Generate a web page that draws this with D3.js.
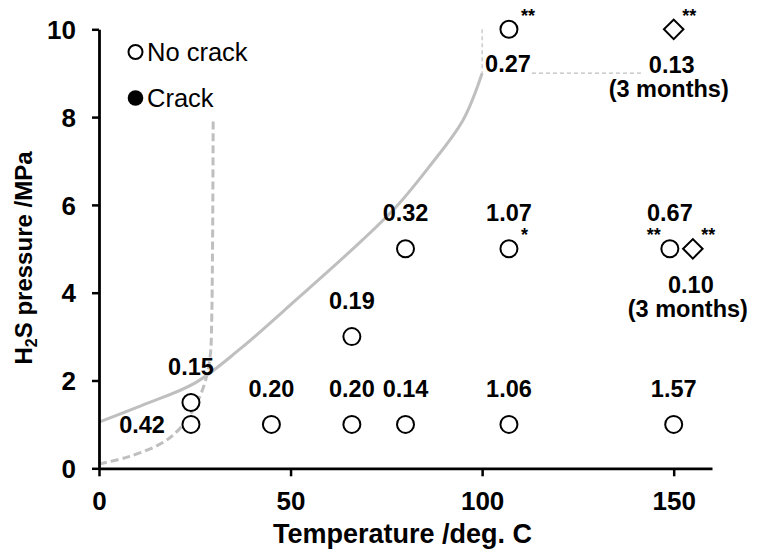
<!DOCTYPE html>
<html>
<head>
<meta charset="utf-8">
<script src="https://cdn.jsdelivr.net/npm/d3@7"></script>
<style>
  html, body { margin: 0; padding: 0; background: #fff; }
  svg { display: block; font-family: "Liberation Sans", Arial, sans-serif; }
</style>
</head>
<body>
<svg id="chart" width="764" height="558"></svg>
<script>
// Test conditions without cracking (open circles: standard duration)
const noCrackTemp  = [24, 24, 45, 66, 80, 107, 150, 66, 80, 107, 149, 107];
const noCrackPress = [1, 1.5, 1, 1, 1, 1, 1, 3, 5, 5, 5, 10];
const noCrackRate  = ["0.42", "0.15", "0.20", "0.20", "0.14", "1.06", "1.57", "0.19", "0.32", "1.07", "0.67", "0.27"];
const noCrackNote  = ["", "", "", "", "", "", "", "", "", "*", "**", "**"];

// 3-month exposures (diamonds)
const longTemp  = [150, 155];
const longPress = [10, 5];
const longRate  = ["0.13", "0.10"];
const longNote  = ["**", "**"];

// H2S vapour-pressure curve up to the critical point
const vapTemp  = [0, 12, 25, 37, 52, 69, 78, 86, 95, 100];
const vapPress = [1.05, 1.46, 1.94, 2.73, 3.88, 5.22, 6.0, 6.85, 7.93, 9.0];

// Dashed boundary near 30 deg. C
const bndTemp  = [0, 7.6, 16.3, 20.7, 25, 27.6, 29, 29.4, 29.8];
const bndPress = [0.1, 0.26, 0.57, 0.87, 1.4, 1.94, 2.54, 3.3, 7.9];

// Critical point guide lines
const critVTemp = [100, 100];
const critVPress = [10, 9];
const critHTemp = [113, 142];
const critHPress = [9, 9];

const xTicks = [0, 50, 100, 150];
const yTicks = [0, 2, 4, 6, 8, 10];

const legendItems = ["No crack", "Crack"];

const svg = d3.select("#chart");
const margin = { left: 99, top: 29.3, right: 52, bottom: 89.7 };
const W = 764 - margin.left - margin.right;
const H = 558 - margin.top - margin.bottom;

const x = d3.scaleLinear().domain([0, 160]).range([margin.left, margin.left + W]);
const y = d3.scaleLinear().domain([0, 10]).range([margin.top + H, margin.top]);

const grey = "#bfbfbf";
const line = d3.line().x(d => x(d[0])).y(d => y(d[1]));

// curves
svg.append("path")
  .attr("d", line.curve(d3.curveCatmullRom.alpha(0.5))(d3.zip(vapTemp, vapPress)))
  .attr("fill", "none").attr("stroke", grey).attr("stroke-width", 3);

svg.append("path")
  .attr("d", line.curve(d3.curveCatmullRom.alpha(0.5))(d3.zip(bndTemp, bndPress)))
  .attr("fill", "none").attr("stroke", grey).attr("stroke-width", 3)
  .attr("stroke-dasharray", "8,4");

svg.append("path")
  .attr("d", line.curve(d3.curveLinear)(d3.zip(critVTemp, critVPress)))
  .attr("fill", "none").attr("stroke", grey).attr("stroke-width", 1.2)
  .attr("stroke-dasharray", "4,3");
svg.append("path")
  .attr("d", line.curve(d3.curveLinear)(d3.zip(critHTemp, critHPress)))
  .attr("fill", "none").attr("stroke", grey).attr("stroke-width", 1.2)
  .attr("stroke-dasharray", "4,3");

// axes
const xAxis = svg.append("g")
  .attr("transform", `translate(0,${y(0)})`)
  .call(d3.axisBottom(x).tickValues(xTicks).tickSize(8).tickSizeOuter(0).tickFormat(d3.format("d")));
const yAxis = svg.append("g")
  .attr("transform", `translate(${x(0)},0)`)
  .call(d3.axisLeft(y).tickValues(yTicks).tickSize(7).tickSizeOuter(0).tickFormat(d3.format("d")));

[xAxis, yAxis].forEach(g => {
  g.select(".domain").attr("stroke", "#000").attr("stroke-width", 2.8);
  g.selectAll(".tick line").attr("stroke", "#000").attr("stroke-width", 2.5);
  g.selectAll(".tick text").attr("fill", "#000")
    .attr("font-family", "'Liberation Sans', Arial, sans-serif")
    .attr("font-size", 26).attr("font-weight", "bold");
});
xAxis.selectAll(".tick text").attr("y", 0).attr("dy", 0)
  .attr("transform", "translate(0,42)");
yAxis.selectAll(".tick text").attr("x", -23).attr("dy", "0.35em");

// axis titles
svg.append("text")
  .attr("x", (x(0) + x(160)) / 2 - 3).attr("y", 543)
  .attr("text-anchor", "middle")
  .attr("font-size", 27).attr("font-weight", "bold")
  .text("Temperature /deg. C");

const yt = svg.append("text")
  .attr("transform", `translate(32,258) rotate(-90)`)
  .attr("text-anchor", "middle")
  .attr("font-size", 24).attr("font-weight", "bold");
yt.append("tspan").text("H");
yt.append("tspan").attr("font-size", 16).attr("dy", 5).text("2");
yt.append("tspan").attr("dy", -5).text("S pressure /MPa");

// data label layout (index -> side)
const circleLabelSide = i => (i === 0 ? "left" : (noCrackPress[i] === 10 ? "below" : "above"));

const circles = d3.zip(noCrackTemp, noCrackPress, noCrackRate, noCrackNote);
const gC = svg.append("g");
circles.forEach(([t, p, r, n], i) => {
  const cx = x(t), cy = y(p);
  gC.append("circle").attr("cx", cx).attr("cy", cy).attr("r", 8.5)
    .attr("fill", "#fff").attr("stroke", "#000").attr("stroke-width", 2);
  const side = circleLabelSide(i);
  const lab = gC.append("text").attr("font-size", 23.5).attr("font-weight", "bold").text(r);
  if (side === "left") {
    lab.attr("x", cx - 26).attr("y", cy + 8.5).attr("text-anchor", "end");
  } else if (side === "below") {
    lab.attr("x", cx - 1).attr("y", cy + 43).attr("text-anchor", "middle");
  } else {
    lab.attr("x", cx).attr("y", cy - 27.5).attr("text-anchor", "middle");
  }
  if (n) {
    const onLeft = t === 149;
    gC.append("text")
      .attr("x", onLeft ? cx - 9 : cx + 12)
      .attr("y", cy - 7.5)
      .attr("text-anchor", onLeft ? "end" : "start")
      .attr("font-size", 18).attr("font-weight", "bold").text(n);
  }
});

const diamonds = d3.zip(longTemp, longPress, longRate, longNote);
const gD = svg.append("g");
const dSym = d3.symbol().type(d3.symbolSquare).size(190);
diamonds.forEach(([t, p, r, n]) => {
  const cx = x(t), cy = y(p);
  gD.append("path").attr("d", dSym())
    .attr("transform", `translate(${cx},${cy}) rotate(45)`)
    .attr("fill", "#fff").attr("stroke", "#000").attr("stroke-width", 2);
  gD.append("text").attr("x", cx - 2).attr("y", cy + 44)
    .attr("text-anchor", "middle").attr("font-size", 23.5).attr("font-weight", "bold").text(r);
  gD.append("text").attr("x", cx - 5).attr("y", cy + 68)
    .attr("text-anchor", "middle").attr("font-size", 23.5).attr("font-weight", "bold").text("(3 months)");
  gD.append("text").attr("x", cx + 8.5).attr("y", cy - 7.5)
    .attr("text-anchor", "start").attr("font-size", 18).attr("font-weight", "bold").text(n);
});

// legend
const lg = svg.append("g");
legendItems.forEach((name, i) => {
  const ly = 52 + i * 46;
  lg.append("circle").attr("cx", 135.5).attr("cy", ly).attr("r", i === 0 ? 7 : 7.8)
    .attr("fill", i === 0 ? "#fff" : "#000").attr("stroke", "#000").attr("stroke-width", i === 0 ? 2 : 0);
  lg.append("text").attr("x", 147).attr("y", ly + 8.5)
    .attr("font-size", 25.5).text(name);
});
</script>
</body>
</html>
